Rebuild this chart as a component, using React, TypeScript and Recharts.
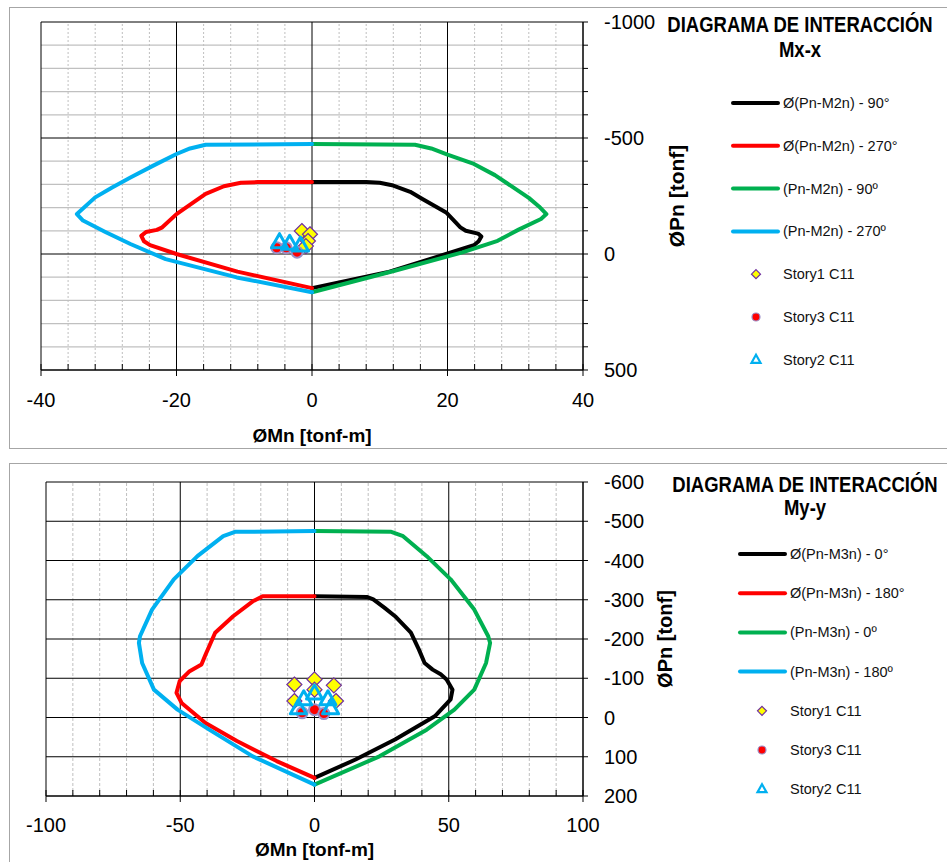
import React from "react";
import {
  ScatterChart, Scatter, XAxis, YAxis, ReferenceLine,
} from "recharts";

// ---- Mx-x diagram (top) ----
const mxXTicks = [-40, -36, -32, -28, -24, -20, -16, -12, -8, -4, 0, 4, 8, 12, 16, 20, 24, 28, 32, 36, 40];
const mxYTicks = [-1000, -900, -800, -700, -600, -500, -400, -300, -200, -100, 0, 100, 200, 300, 400, 500];

const mxPhi90M = [0, 8, 10, 12, 14.5, 16.3, 19.8, 21.9, 22.7, 24.5, 25, 24.6, 23.9, 19.8, 11.1, 0];
const mxPhi90P = [-310, -310, -307, -295, -268, -237, -179, -115, -100, -88, -75, -55, -38, 0, 79, 147];
const mxPhi270M = [0, -8, -10.5, -13, -15.7, -20, -22.1, -22.9, -24.5, -25.2, -24.8, -23.9, -20, -11, 0];
const mxPhi270P = [-310, -310, -307, -292, -259, -172, -115, -104, -95, -78, -55, -38, 0, 76, 147];
const mxNom90M = [0, 15.2, 17.6, 20, 23.9, 27, 29.7, 32, 33.5, 34.6, 33.8, 30.5, 27.4, 22.2, 12.2, 0];
const mxNom90P = [-474, -471, -455, -428, -388, -340, -287, -242, -205, -172, -151, -105, -57, -7, 72, 165];
const mxNom270M = [0, -15.7, -18, -20, -23.5, -26.8, -29.5, -32, -34.7, -33.8, -30.5, -26.8, -21.6, -11.1, 0];
const mxNom270P = [-474, -471, -455, -431, -380, -330, -287, -244, -172, -144, -95, -43, 22, 101, 165];

const mxStory1M = [-1.5, -0.3, -0.6, -0.9];
const mxStory1P = [-99, -85, -56, -34];
const mxStory3M = [-5.2, -3.8, -2.2];
const mxStory3P = [-27, -27, -8];
const mxStory2M = [-4.8, -3.3, -1.7];
const mxStory2P = [-49, -42, -34];

// ---- My-y diagram (bottom) ----
const myXTicks = [-100, -90, -80, -70, -60, -50, -40, -30, -20, -10, 0, 10, 20, 30, 40, 50, 60, 70, 80, 90, 100];
const myYTicks = [-600, -500, -400, -300, -200, -100, 0, 100, 200];

const myPhi0M = [0, 19.7, 21.9, 26, 30, 35.9, 38.9, 41, 44, 47, 49.2, 51.4, 50.7, 44.8, 30, 15.3, 0];
const myPhi0P = [-309, -307, -301, -280, -258, -216, -173, -139, -122, -110, -97, -71, -46, -3, 56, 107, 154];
const myPhi180M = [0, -19.3, -23, -30.3, -37, -40.6, -42.1, -46.5, -50.2, -51.4, -49.5, -40.6, -28.9, -14.1, 0];
const myPhi180P = [-309, -309, -296, -258, -216, -160, -135, -118, -93, -63, -37, 14, 60, 111, 154];
const myNom0M = [0, 28.6, 33, 41.8, 50.7, 59.5, 64.7, 65.4, 63.9, 59.5, 52.1, 41.8, 24.2, 0];
const myNom0P = [-475, -473, -462, -411, -352, -275, -207, -190, -139, -71, -20, 31, 99, 171];
const myNom180M = [0, -29.6, -34, -43.6, -52.4, -60.5, -65, -65.4, -64.2, -59.8, -51, -39.2, -23, 0];
const myNom180P = [-475, -473, -462, -411, -352, -275, -207, -190, -139, -71, -20, 31, 99, 171];

const myStory1M = [-7.5, 0, 7.2, 0, -7.5, 8];
const myStory1P = [-84, -97, -82, -71, -42, -42];
const myStory3M = [-4.6, 0, 3.5];
const myStory3P = [-12, -20, -10];
const myStory2M = [0, -4, 5, -6, 6];
const myStory2P = [-60, -45, -45, -22, -22];

const BLACK = "#000000";
const RED = "#FF0000";
const GREEN = "#00B050";
const BLUE = "#00B0F0";
const FONT = "'Liberation Sans', Arial, sans-serif";

const pts = (m: number[], p: number[]) => m.map((v, i) => ({ x: v, y: p[i] }));

const Diamond = (p: any) => (
  <polygon
    points={`${p.cx},${p.cy - 7.5} ${p.cx + 7.5},${p.cy} ${p.cx},${p.cy + 7.5} ${p.cx - 7.5},${p.cy}`}
    fill="#FFFF00" stroke="#7030A0" strokeWidth={1.2}
  />
);
const Dot = (p: any) => <circle cx={p.cx} cy={p.cy} r={5.5} fill={RED} stroke="#9A8FC9" strokeWidth={2} />;
const Tri = (p: any) => (
  <polygon
    points={`${p.cx},${p.cy - 9} ${p.cx + 8},${p.cy + 5} ${p.cx - 8},${p.cy + 5}`}
    fill="none" stroke={BLUE} strokeWidth={3} strokeLinejoin="round"
  />
);
const Nothing = () => <g />;

const xTick = (step: number, labelDy: number) => (props: any) => {
  const { x, y, payload } = props;
  const major = payload.value % step === 0;
  return (
    <g>
      <line x1={x} x2={x} y1={y - 6} y2={major ? y + 6 : y} stroke={BLACK} />
      {major && (
        <text x={x} y={y + labelDy} textAnchor="middle" fontSize={20} fill="#000">
          {payload.value}
        </text>
      )}
    </g>
  );
};

const yTick = (step: number) => (props: any) => {
  const { x, y, payload } = props;
  const major = payload.value % step === 0;
  return (
    <g>
      <line x1={x} x2={x + 5} y1={y} y2={y} stroke={BLACK} />
      {major && (
        <text x={x + 21} y={y + 7} textAnchor="start" fontSize={20} fill="#000">
          {payload.value}
        </text>
      )}
    </g>
  );
};

type LegendItem = { label: string; color: string; kind: "line" | "diamond" | "dot" | "tri" };

const mxLegend: LegendItem[] = [
  { label: "Ø(Pn-M2n) - 90°", color: BLACK, kind: "line" },
  { label: "Ø(Pn-M2n) - 270°", color: RED, kind: "line" },
  { label: "(Pn-M2n) - 90º", color: GREEN, kind: "line" },
  { label: "(Pn-M2n) - 270º", color: BLUE, kind: "line" },
  { label: "Story1 C11", color: "#FFFF00", kind: "diamond" },
  { label: "Story3 C11", color: RED, kind: "dot" },
  { label: "Story2 C11", color: BLUE, kind: "tri" },
];
const myLegend: LegendItem[] = [
  { label: "Ø(Pn-M3n) - 0°", color: BLACK, kind: "line" },
  { label: "Ø(Pn-M3n) - 180°", color: RED, kind: "line" },
  { label: "(Pn-M3n) - 0º", color: GREEN, kind: "line" },
  { label: "(Pn-M3n) - 180º", color: BLUE, kind: "line" },
  { label: "Story1 C11", color: "#FFFF00", kind: "diamond" },
  { label: "Story3 C11", color: RED, kind: "dot" },
  { label: "Story2 C11", color: BLUE, kind: "tri" },
];

function Overlay({ items, sub, titleX, titleY, subY, rowY, rowGap, lineX, markX }: any) {
  return (
    <svg width={930} height={440} style={{ position: "absolute", left: 0, top: 0, pointerEvents: "none", fontFamily: FONT }}>
      <g transform={`translate(${titleX},${titleY}) scale(1,1.15)`}>
        <text x={0} y={0} textAnchor="middle" fontSize={18.5} fontWeight="bold" fill="#000">
          DIAGRAMA DE INTERACCIÓN
        </text>
      </g>
      <g transform={`translate(${titleX},${subY}) scale(1,1.15)`}>
        <text x={0} y={0} textAnchor="middle" fontSize={18.5} fontWeight="bold" fill="#000">
          {sub}
        </text>
      </g>
      {items.map((it: LegendItem, i: number) => {
        const y = rowY + i * rowGap;
        return (
          <g key={it.label}>
            {it.kind === "line" && <line x1={lineX} x2={lineX + 45} y1={y} y2={y} stroke={it.color} strokeWidth={4} strokeLinecap="round" />}
            {it.kind === "diamond" && (
              <polygon points={`${markX},${y - 4.5} ${markX + 4.5},${y} ${markX},${y + 4.5} ${markX - 4.5},${y}`} fill="#FFFF00" stroke="#7030A0" strokeWidth={1.2} />
            )}
            {it.kind === "dot" && <circle cx={markX} cy={y} r={4} fill={RED} stroke="#9A8FC9" strokeWidth={1.2} />}
            {it.kind === "tri" && (
              <polygon points={`${markX},${y - 5} ${markX + 4.5},${y + 3} ${markX - 4.5},${y + 3}`} fill="#fff" stroke={BLUE} strokeWidth={2.2} />
            )}
            <text x={lineX + 50} y={y + 5} fontSize={14.5} fill="#111">{it.label}</text>
          </g>
        );
      })}
    </svg>
  );
}

function curve(name: string, m: number[], p: number[], color: string) {
  return (
    <Scatter key={name} name={name} data={pts(m, p)} shape={Nothing} isAnimationActive={false}
      line={{ stroke: color, strokeWidth: 4, strokeLinejoin: "round", strokeLinecap: "round" }} lineType="joint" />
  );
}

const panelStyle = (top: number, height: number): React.CSSProperties => ({
  position: "absolute", left: 9, top, width: 950, height,
  border: "1px solid #A6A6A6", background: "#fff", fontFamily: FONT,
});

export default function App() {
  const mxMinorY = mxYTicks.filter(v => v % 500 !== 0);
  const mxMajorY = mxYTicks.filter(v => v % 500 === 0);
  const mxMinorX = mxXTicks.filter(v => v % 20 !== 0);
  const mxMajorX = mxXTicks.filter(v => v % 20 === 0);
  const myMinorX = myXTicks.filter(v => v % 50 !== 0);
  const myMajorX = myXTicks.filter(v => v % 50 === 0);

  return (
    <div style={{ position: "fixed", left: 0, top: 0, width: 947, height: 862, overflow: "hidden", background: "#fff" }}>
      {/* Mx-x */}
      <div style={panelStyle(7, 440)}>
        <ScatterChart width={930} height={439} margin={{ top: 14, left: 31, right: 169, bottom: 2 }}>
          {mxMinorY.map(v => <ReferenceLine key={"hy" + v} y={v} stroke="#C0C0C0" strokeWidth={1.3} />)}
          {mxMinorX.map(v => <ReferenceLine key={"vx" + v} x={v} stroke="#BFBFBF" strokeDasharray="2 2" />)}
          {mxMajorY.map(v => <ReferenceLine key={"HY" + v} y={v} stroke={BLACK} />)}
          {mxMajorX.map(v => <ReferenceLine key={"VX" + v} x={v} stroke={BLACK} />)}
          <XAxis type="number" dataKey="x" domain={[-40, 40]} ticks={mxXTicks} interval={0}
            tickSize={0} tickMargin={0} tickLine={false} axisLine={{ stroke: BLACK }} height={75}
            tick={xTick(20, 37)}
            label={{ value: "ØMn [tonf-m]", position: "insideBottom", offset: 3, fontSize: 19, fontWeight: "bold", fill: "#000" }} />
          <YAxis type="number" dataKey="y" orientation="right" reversed domain={[-1000, 500]} ticks={mxYTicks} interval={0}
            tickSize={0} tickMargin={0} tickLine={false} axisLine={{ stroke: BLACK }} width={188}
            tick={yTick(500)}
            label={{ value: "ØPn [tonf]", angle: -90, position: "center", fontSize: 21, fontWeight: "bold", fill: "#000" }} />
          {curve("Ø(Pn-M2n) - 90°", mxPhi90M, mxPhi90P, BLACK)}
          {curve("Ø(Pn-M2n) - 270°", mxPhi270M, mxPhi270P, RED)}
          {curve("(Pn-M2n) - 90º", mxNom90M, mxNom90P, GREEN)}
          {curve("(Pn-M2n) - 270º", mxNom270M, mxNom270P, BLUE)}
          <Scatter name="Story1 C11" data={pts(mxStory1M, mxStory1P)} shape={Diamond} isAnimationActive={false} />
          <Scatter name="Story3 C11" data={pts(mxStory3M, mxStory3P)} shape={Dot} isAnimationActive={false} />
          <Scatter name="Story2 C11" data={pts(mxStory2M, mxStory2P)} shape={Tri} isAnimationActive={false} />
        </ScatterChart>
        <Overlay items={mxLegend} sub="Mx-x" titleX={790} titleY={24} subY={49}
          rowY={95} rowGap={42.8} lineX={723} markX={746} />
      </div>

      {/* My-y */}
      <div style={panelStyle(463, 430)}>
        <ScatterChart width={930} height={420} margin={{ top: 18, left: 36, right: 193, bottom: 18 }}>
          {myMinorX.map(v => <ReferenceLine key={"vx" + v} x={v} stroke="#BFBFBF" strokeDasharray="3 2" />)}
          {myYTicks.map(v => <ReferenceLine key={"HY" + v} y={v} stroke={BLACK} />)}
          {myMajorX.map(v => <ReferenceLine key={"VX" + v} x={v} stroke={BLACK} />)}
          <XAxis type="number" dataKey="x" domain={[-100, 100]} ticks={myXTicks} interval={0}
            tickSize={0} tickMargin={0} tickLine={false} axisLine={{ stroke: BLACK }} height={70}
            tick={xTick(50, 36)}
            label={{ value: "ØMn [tonf-m]", position: "insideBottom", offset: 10, fontSize: 19, fontWeight: "bold", fill: "#000" }} />
          <YAxis type="number" dataKey="y" orientation="right" reversed domain={[-600, 200]} ticks={myYTicks} interval={0}
            tickSize={0} tickMargin={0} tickLine={false} axisLine={{ stroke: BLACK }} width={164}
            tick={yTick(100)}
            label={{ value: "ØPn [tonf]", angle: -90, position: "center", fontSize: 20, fontWeight: "bold", fill: "#000" }} />
          {curve("Ø(Pn-M3n) - 0°", myPhi0M, myPhi0P, BLACK)}
          {curve("Ø(Pn-M3n) - 180°", myPhi180M, myPhi180P, RED)}
          {curve("(Pn-M3n) - 0º", myNom0M, myNom0P, GREEN)}
          {curve("(Pn-M3n) - 180º", myNom180M, myNom180P, BLUE)}
          <Scatter name="Story1 C11" data={pts(myStory1M, myStory1P)} shape={Diamond} isAnimationActive={false} />
          <Scatter name="Story3 C11" data={pts(myStory3M, myStory3P)} shape={Dot} isAnimationActive={false} />
          <Scatter name="Story2 C11" data={pts(myStory2M, myStory2P)} shape={Tri} isAnimationActive={false} />
        </ScatterChart>
        <Overlay items={myLegend} sub="My-y" titleX={795} titleY={28} subY={51}
          rowY={90} rowGap={39.2} lineX={730} markX={752} />
      </div>
    </div>
  );
}
